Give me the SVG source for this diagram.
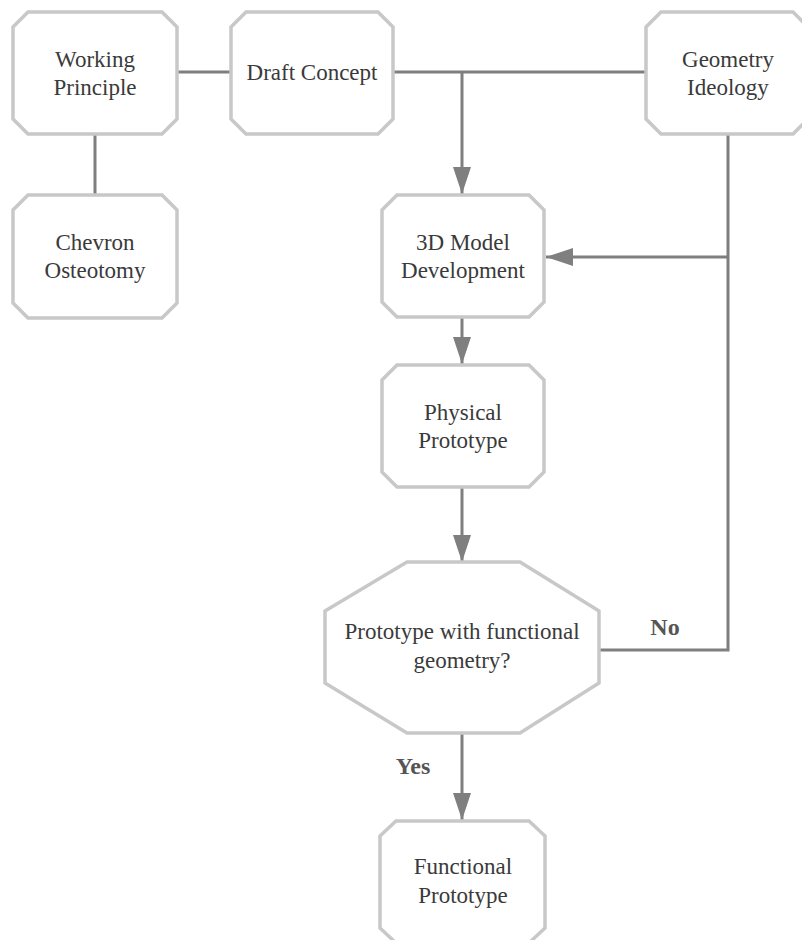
<svg xmlns="http://www.w3.org/2000/svg" width="802" height="940" viewBox="0 0 802 940">
<style>
.box{fill:#fff;stroke:#c8c8c8;stroke-width:3.5}
.c{fill:none;stroke:#7f7f7f;stroke-width:3}
.t{font-family:"Liberation Serif",serif;font-size:23px;fill:#3a3a3a;text-anchor:middle}
.lb{font-family:"Liberation Serif",serif;font-size:24px;font-weight:bold;fill:#555;text-anchor:middle}
</style>
<defs>
<marker id="ah" viewBox="0 0 27 18" refX="27" refY="9" markerWidth="9" markerHeight="6" markerUnits="strokeWidth" orient="auto">
<path d="M0,0 L27,9 L0,18 Z" fill="#7f7f7f"/>
</marker>
</defs>
<rect width="802" height="940" fill="#fff"/>
<g id="connectors">
<path class="c" d="M177,72 H231"/>
<path class="c" d="M95,134 V195"/>
<path class="c" d="M393,72 H646"/>
<path class="c" d="M462,72 V194" marker-end="url(#ah)"/>
<path class="c" d="M728,134 V650 H599"/>
<path class="c" d="M728,257 H546" marker-end="url(#ah)"/>
<path class="c" d="M462,317 V364" marker-end="url(#ah)"/>
<path class="c" d="M462,487 V562" marker-end="url(#ah)"/>
<path class="c" d="M462,733 V820" marker-end="url(#ah)"/>
</g>
<g id="working-principle">
<path class="box" d="M28,12 H162 L177,27 V119 L162,134 H28 L13,119 V27 Z"/>
<text class="t" x="95" y="67">Working</text>
<text class="t" x="95" y="95">Principle</text>
</g>
<g id="draft-concept">
<path class="box" d="M246,12 H378 L393,27 V119 L378,134 H246 L231,119 V27 Z"/>
<text class="t" x="312" y="80">Draft Concept</text>
</g>
<g id="geometry-ideology">
<path class="box" d="M661,12 H793 L808,27 V119 L793,134 H661 L646,119 V27 Z"/>
<text class="t" x="728" y="67">Geometry</text>
<text class="t" x="728" y="95">Ideology</text>
</g>
<g id="chevron-osteotomy">
<path class="box" d="M28,195 H162 L177,210 V303 L162,318 H28 L13,303 V210 Z"/>
<text class="t" x="95" y="250">Chevron</text>
<text class="t" x="95" y="278">Osteotomy</text>
</g>
<g id="model-3d">
<path class="box" d="M397,195 H529 L544,210 V302 L529,317 H397 L382,302 V210 Z"/>
<text class="t" x="463" y="250">3D Model</text>
<text class="t" x="463" y="278">Development</text>
</g>
<g id="physical-prototype">
<path class="box" d="M397,365 H529 L544,380 V472 L529,487 H397 L382,472 V380 Z"/>
<text class="t" x="463" y="420">Physical</text>
<text class="t" x="463" y="448">Prototype</text>
</g>
<g id="decision">
<path class="box" d="M407,562 H520 L599,611 V683 L520,733 H407 L325,683 V611 Z"/>
<text class="t" x="462" y="639">Prototype with functional</text>
<text class="t" x="462" y="668">geometry?</text>
</g>
<g id="functional-prototype">
<path class="box" d="M396,821 H529 L545,836 V928 L529,943 H396 L380,928 V836 Z"/>
<text class="t" x="463" y="874">Functional</text>
<text class="t" x="463" y="903">Prototype</text>
</g>
<text class="lb" x="665" y="635">No</text>
<text class="lb" x="413" y="774">Yes</text>
</svg>
